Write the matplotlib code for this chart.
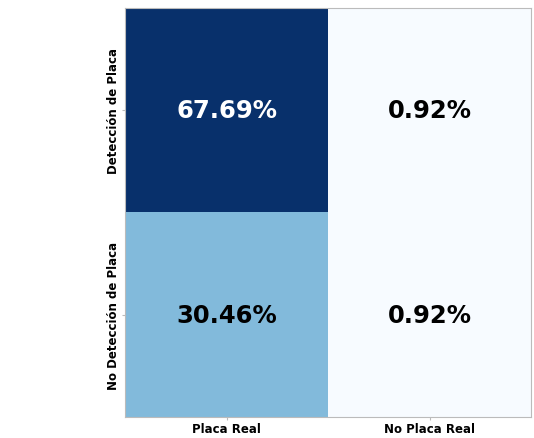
import numpy as np
import matplotlib.pyplot as plt

# porcentajes de la matriz de confusión
filas = ['Detección de Placa', 'No Detección de Placa']
columnas = ['Placa Real', 'No Placa Real']
valores = [[67.69, 0.92],
           [30.46, 0.92]]

if __name__ == '__main__':
    cm = np.array(valores)

    fig = plt.figure(figsize=(5.34, 4.39), dpi=100)
    ax = fig.add_axes([125 / 534, 1 - 418 / 439, 406 / 534, 409 / 439])
    ax.imshow(cm, cmap='Blues', aspect='auto')

    umbral = cm.max() / 2
    for i in range(cm.shape[0]):
        for j in range(cm.shape[1]):
            color = 'white' if cm[i, j] > umbral else 'black'
            ax.text(j, i, f'{cm[i, j]:.2f}%', ha='center', va='center',
                    fontsize=17.5, fontweight='bold', color=color)

    ax.set_xticks(range(len(columnas)))
    ax.set_xticklabels(columnas, fontsize=8.5, fontweight='bold')
    ax.set_yticks(range(len(filas)))
    ax.set_yticklabels(filas, fontsize=8.5, fontweight='bold', rotation=90, va='center')
    ax.tick_params(length=2, pad=1.5, color='#bbbbbb')
    for s in ax.spines.values():
        s.set_color('#bbbbbb')

    plt.savefig('out.png', dpi=100)
